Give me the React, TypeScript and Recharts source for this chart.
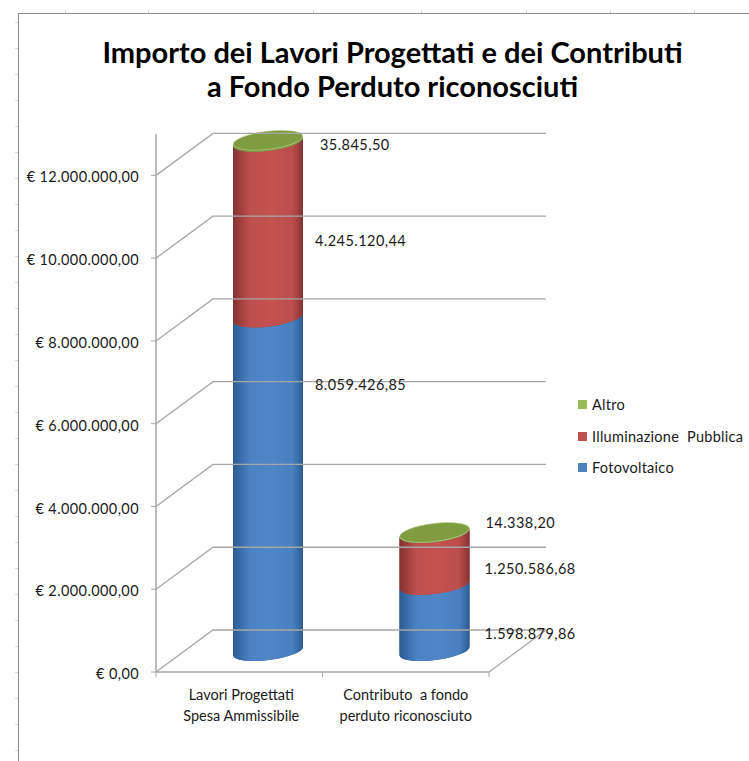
import React from "react";
import { BarChart, Bar, XAxis, YAxis, Legend, LabelList } from "recharts";

const categories = [
  ["Lavori Progettati", "Spesa Ammissibile"],
  ["Contributo  a fondo", "perduto riconosciuto"],
];
const fotovoltaico = [8059426.85, 1598879.86];
const illuminazione = [4245120.44, 1250586.68];
const altro = [35845.5, 14338.2];
const yTicks = [0, 2000000, 4000000, 6000000, 8000000, 10000000, 12000000];
const yTickLabels = [
  "€ 0,00",
  "€ 2.000.000,00",
  "€ 4.000.000,00",
  "€ 6.000.000,00",
  "€ 8.000.000,00",
  "€ 10.000.000,00",
  "€ 12.000.000,00",
];
const titleLines = ["Importo dei Lavori Progettati e dei Contributi", "a Fondo Perduto riconosciuti"];
const legendOrder = ["Altro", "Illuminazione  Pubblica", "Fotovoltaico"];

const data = categories.map((c, i) => ({
  name: c.join("|"),
  Fotovoltaico: fotovoltaico[i],
  Illuminazione: illuminazione[i],
  Altro: altro[i],
}));

const FONT = "Lato, 'Open Sans', sans-serif";
const DX = 29;
const DY = -21;
const WALL = { dx: 57, dy: -42, w: 333 };
const AXIS = "#a6a6a6";
const TEXT = "#1a1a1a";
const sheetColumnMarks = [65, 148, 313, 421, 526, 610, 694];

const palette = {
  blue: { flat: "#4f81bd", edge: "#2a5a92", mid: "#4f86c8" },
  red: { flat: "#c0504d", edge: "#843230", mid: "#c4524f" },
  green: { flat: "#9bbb59", edge: "#66812f", mid: "#7f9c40" },
};

const RX = 35;
const RY = 9;
const TILT = 7;
const TILT_DY = RX * Math.sin((TILT * Math.PI) / 180);

function cylinder(tone: typeof palette.blue, key: string, top: boolean) {
  return (props: any) => {
    const { x, y, width, height, index } = props;
    const l = x + DX;
    const r = l + width;
    const yT = y + DY;
    const yB = y + height + DY;
    const id = `g-${key}-${index}`;
    const arc = (toX: number, toY: number, sweep: number) =>
      `A ${RX} ${RY} ${-TILT} 0 ${sweep} ${toX} ${toY}`;
    const d = [
      `M ${l} ${yT + TILT_DY}`,
      `L ${l} ${yB + TILT_DY}`,
      arc(r, yB - TILT_DY, 0),
      `L ${r} ${yT - TILT_DY}`,
      arc(l, yT + TILT_DY, 1),
      "Z",
    ].join(" ");
    return (
      <g>
        <defs>
          <linearGradient id={id} x1="0" x2="1" y1="0" y2="0">
            <stop offset="0" stopColor={tone.edge} />
            <stop offset="0.25" stopColor={tone.mid} stopOpacity={0.92} />
            <stop offset="0.55" stopColor={tone.mid} />
            <stop offset="0.85" stopColor={tone.mid} stopOpacity={0.85} />
            <stop offset="1" stopColor={tone.edge} />
          </linearGradient>
        </defs>
        <path d={d} fill={tone.edge} />
        <path d={d} fill={`url(#${id})`} />
        {top && (
          <ellipse
            cx={(l + r) / 2}
            cy={yT}
            rx={RX}
            ry={RY}
            transform={`rotate(${-TILT} ${(l + r) / 2} ${yT})`}
            fill={tone.mid}
            stroke="#b9c98a"
            strokeWidth={0.6}
          />
        )}
      </g>
    );
  };
}

const fmt = (v: number) => {
  const [int, dec] = v.toFixed(2).split(".");
  return `${int.replace(/\B(?=(\d{3})+$)/g, ".")},${dec}`;
};

const labelOffsets: Record<string, { dx: number; dy: number }[]> = {
  Fotovoltaico: [
    { dx: 111, dy: 46 },
    { dx: 114, dy: 28 },
  ],
  Illuminazione: [
    { dx: 111, dy: 78 },
    { dx: 114, dy: 15 },
  ],
  Altro: [
    { dx: 116, dy: -16 },
    { dx: 115, dy: -31 },
  ],
};

const dataLabel = (series: string) => (props: any) => {
  const { x, y, index, value } = props;
  const o = labelOffsets[series][index];
  return (
    <text
      x={x + o.dx}
      y={y + o.dy}
      dy="0.35em"
      fontFamily={FONT}
      fontSize={14.5}
      letterSpacing={0.45}
      fill={TEXT}
    >
      {fmt(Number(value))}
    </text>
  );
};

const YTick = (props: any) => {
  const { x, y, payload, index } = props;
  const ax = x + 8;
  return (
    <g>
      <line x1={ax - 5} x2={ax} y1={y} y2={y} stroke={AXIS} />
      <polyline
        points={`${ax},${y} ${ax + WALL.dx},${y + WALL.dy} ${ax + WALL.dx + WALL.w},${y + WALL.dy}`}
        fill="none"
        stroke={AXIS}
        strokeWidth={1.3}
      />
      {payload.value === 0 && (
        <line
          x1={ax + WALL.w}
          y1={y}
          x2={ax + WALL.w + WALL.dx}
          y2={y + WALL.dy}
          stroke={AXIS}
          strokeWidth={1.3}
        />
      )}
      <text
        x={x - 9}
        y={y + 2}
        dy="0.35em"
        textAnchor="end"
        fontFamily={FONT}
        fontSize={14.5}
        letterSpacing={0.4}
        fill={TEXT}
      >
        {yTickLabels[index]}
      </text>
    </g>
  );
};

const XTick = (props: any) => {
  const { x, y, payload, index } = props;
  const half = 83.25;
  const [a, b] = String(payload.value).split("|");
  return (
    <g>
      <line x1={x - half} x2={x - half} y1={y - 8} y2={y - 3} stroke={AXIS} />
      <line x1={x + half} x2={x + half} y1={y - 8} y2={y - 3} stroke={AXIS} />
      <text
        fontFamily={FONT}
        fontSize={14.5}
        fill={TEXT}
        textAnchor="middle"
        style={{ whiteSpace: "pre" }}
        x={x + (index === 1 ? 0 : 2)}
        y={695}
        dy="0.35em"
      >
        {a}
      </text>
      <text
        fontFamily={FONT}
        fontSize={14.5}
        fill={TEXT}
        textAnchor="middle"
        x={x + (index === 1 ? 0 : 2)}
        y={716}
        dy="0.35em"
      >
        {b}
      </text>
    </g>
  );
};

const LegendBox = (props: any) => {
  const items = legendOrder
    .map((n) => (props.payload || []).find((p: any) => p.value === n))
    .filter(Boolean);
  return (
    <div style={{ fontFamily: FONT, fontSize: 14.5, color: TEXT, letterSpacing: 0.27 }}>
      {items.map((it: any) => (
        <div
          key={it.value}
          style={{ height: 31.5, display: "flex", alignItems: "center", whiteSpace: "pre" }}
        >
          <span
            style={{ width: 9, height: 9, background: it.color, marginRight: 5, flex: "none" }}
          />
          {it.value}
        </div>
      ))}
    </div>
  );
};

export default function App() {
  return (
    <div
      style={{
        position: "absolute",
        left: 0,
        top: 0,
        width: 749,
        height: 761,
        overflow: "hidden",
        background: "#fff",
      }}
    >
      <div
        style={{
          position: "absolute",
          left: 15,
          top: 22,
          width: 3,
          bottom: 0,
          background:
            "repeating-linear-gradient(to bottom, #d8d8d8 0 1px, transparent 1px 26px)",
        }}
      />
      {sheetColumnMarks.map((x) => (
        <div
          key={x}
          style={{ position: "absolute", left: x, top: 10, width: 1, height: 3, background: "#d8d8d8" }}
        />
      ))}
      <div
        style={{
          position: "absolute",
          left: 18,
          top: 13,
          right: 0,
          bottom: 0,
          borderLeft: "1.5px solid #8c8c8c",
          borderTop: "1.5px solid #8c8c8c",
        }}
      />
      {titleLines.map((t, i) => (
        <div
          key={t}
          style={{
            position: "absolute",
            left: 0,
            width: 785,
            top: 34 + i * 34,
            lineHeight: "36px",
            textAlign: "center",
            fontFamily: FONT,
            fontWeight: 700,
            fontSize: 29,
            color: "#000",
          }}
        >
          {t}
        </div>
      ))}
      <BarChart
        width={749}
        height={761}
        data={data}
        barSize={70}
        margin={{ top: 134, right: 260, bottom: 0, left: 0 }}
        style={{ position: "absolute", left: 0, top: 0 }}
      >
        <YAxis
          type="number"
          width={156}
          domain={[0, 13000000]}
          ticks={yTicks}
          interval={0}
          tick={YTick}
          tickLine={false}
          axisLine={{ stroke: AXIS, strokeWidth: 1.5 }}
        />
        <XAxis
          dataKey="name"
          height={89}
          interval={0}
          tick={XTick}
          tickLine={false}
          axisLine={{ stroke: AXIS, strokeWidth: 1.5 }}
        />
        <Legend
          layout="vertical"
          align="center"
          verticalAlign="middle"
          content={LegendBox}
          wrapperStyle={{ position: "absolute", left: 578, top: 389, width: 171, bottom: "auto" }}
        />
        <Bar
          dataKey="Fotovoltaico"
          name="Fotovoltaico"
          stackId="s"
          fill={palette.blue.flat}
          isAnimationActive={false}
          shape={cylinder(palette.blue, "blue", false)}
        >
          <LabelList dataKey="Fotovoltaico" content={dataLabel("Fotovoltaico")} />
        </Bar>
        <Bar
          dataKey="Illuminazione"
          name="Illuminazione  Pubblica"
          stackId="s"
          fill={palette.red.flat}
          isAnimationActive={false}
          shape={cylinder(palette.red, "red", false)}
        >
          <LabelList dataKey="Illuminazione" content={dataLabel("Illuminazione")} />
        </Bar>
        <Bar
          dataKey="Altro"
          name="Altro"
          stackId="s"
          fill={palette.green.flat}
          isAnimationActive={false}
          shape={cylinder(palette.green, "green", true)}
        >
          <LabelList dataKey="Altro" content={dataLabel("Altro")} />
        </Bar>
      </BarChart>
    </div>
  );
}
